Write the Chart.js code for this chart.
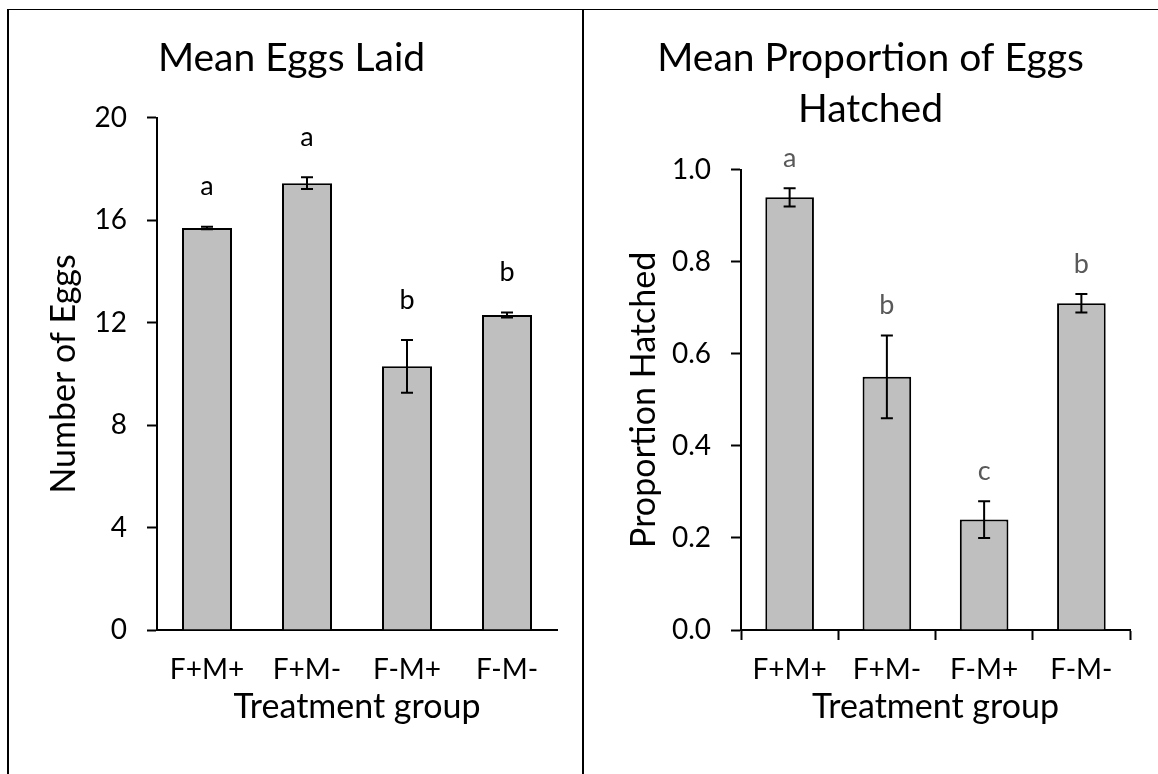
<!DOCTYPE html>
<html>
<head>
<meta charset="utf-8">
<script src="https://cdn.jsdelivr.net/npm/chart.js@4/dist/chart.umd.min.js"></script>
<style>
    html, body { margin: 0; padding: 0; background: #fff; }
    body { width: 1158px; height: 774px; position: relative; overflow: hidden; }
    canvas { position: absolute; top: 0; }
    #eggsChart { left: 0; }
    #hatchChart { left: 583px; }
    .rule { position: absolute; background: #000; z-index: 2; }
</style>
</head>
<body>
<canvas id="eggsChart" width="583" height="774"></canvas>
<canvas id="hatchChart" width="575" height="774"></canvas>
<div class="rule" style="left:7px; top:9px; width:1151px; height:1px;"></div>
<div class="rule" style="left:7px; top:9px; width:2px; height:765px;"></div>
<div class="rule" style="left:582px; top:9px; width:2px; height:765px;"></div>
<script>
// data
const groups = ['F+M+', 'F+M-', 'F-M+', 'F-M-'];

const eggMeans = [15.7, 17.45, 10.3, 12.3];
const eggErrors = [0.05, 0.23, 1.03, 0.1];
const eggLetters = ['a', 'a', 'b', 'b'];

const hatchMeans = [0.94, 0.55, 0.24, 0.71];
const hatchErrors = [0.02, 0.09, 0.04, 0.02];
const hatchLetters = ['a', 'b', 'c', 'b'];

const FONT = 'Lato, "Open Sans", sans-serif';

// error bars + significance letters above each bar
const errorBarPlugin = {
    id: 'errorBars',
    afterDatasetsDraw(chart, args, opts) {
        const ctx = chart.ctx;
        const meta = chart.getDatasetMeta(0);
        const yScale = chart.scales.y;
        const values = chart.data.datasets[0].data;
        ctx.save();
        ctx.strokeStyle = '#000';
        ctx.lineWidth = 2;
        meta.data.forEach((bar, i) => {
            const err = opts.errors[i];
            const yHi = yScale.getPixelForValue(values[i] + err);
            const yLo = yScale.getPixelForValue(values[i] - err);
            ctx.beginPath();
            ctx.moveTo(bar.x, yHi);
            ctx.lineTo(bar.x, yLo);
            ctx.moveTo(bar.x - 6, yHi);
            ctx.lineTo(bar.x + 6, yHi);
            ctx.moveTo(bar.x - 6, yLo);
            ctx.lineTo(bar.x + 6, yLo);
            ctx.stroke();

            ctx.fillStyle = opts.letterColor;
            ctx.font = '27px ' + FONT;
            ctx.textAlign = 'center';
            ctx.textBaseline = 'middle';
            ctx.fillText(opts.letters[i], bar.x, yHi - opts.letterGap);
        });
        ctx.restore();
    },
};

function makeChart(canvasId, cfg) {
    return new Chart(document.getElementById(canvasId), {
        type: 'bar',
        data: {
            labels: groups,
            datasets: [{
                data: cfg.values,
                backgroundColor: '#bfbfbf',
                borderColor: '#000',
                borderWidth: 2,
                barPercentage: 0.5,
                categoryPercentage: 1.0,
            }],
        },
        options: {
            responsive: false,
            animation: false,
            devicePixelRatio: 1,
            plugins: {
                legend: { display: false },
                tooltip: { enabled: false },
                title: {
                    display: true,
                    text: cfg.title,
                    color: '#000',
                    font: { family: FONT, size: 39, weight: 'normal', lineHeight: 1.33 },
                    padding: { top: 32, bottom: cfg.titleBottom },
                },
                errorBars: {
                    errors: cfg.errors,
                    letters: cfg.letters,
                    letterColor: cfg.letterColor,
                    letterGap: cfg.letterGap,
                },
            },
            scales: {
                x: {
                    grid: {
                        display: true,
                        drawOnChartArea: false,
                        drawTicks: cfg.xTicks,
                        tickLength: 10,
                        tickWidth: 2,
                        tickColor: '#000',
                    },
                    border: { display: true, color: '#000', width: 2 },
                    ticks: {
                        color: '#000',
                        font: { family: FONT, size: 28 },
                        padding: cfg.xTicks ? 13 : 23,
                        maxRotation: 0,
                    },
                    title: {
                        display: true,
                        text: 'Treatment group',
                        color: '#000',
                        font: { family: FONT, size: 34 },
                        padding: { top: 0, bottom: 47 },
                    },
                    afterFit: s => { s.height = 144; },
                },
                y: {
                    min: 0,
                    max: cfg.yMax,
                    grid: {
                        display: true,
                        drawOnChartArea: false,
                        drawTicks: true,
                        tickLength: 10,
                        tickWidth: 2,
                        tickColor: '#000',
                    },
                    border: { display: true, color: '#000', width: 2 },
                    ticks: {
                        stepSize: cfg.yStep,
                        color: '#000',
                        font: { family: FONT, size: 28 },
                        padding: 20,
                        callback: v => v.toFixed(cfg.decimals),
                    },
                    title: {
                        display: true,
                        text: cfg.yTitle,
                        color: '#000',
                        font: { family: FONT, size: 34 },
                        padding: { top: cfg.yTitlePad, bottom: 0 },
                    },
                    afterFit: s => { s.width = cfg.yWidth; },
                },
                // empty right-hand margin so the title centres on the whole panel
                gap: {
                    type: 'linear',
                    position: 'right',
                    grid: { display: false },
                    border: { display: false },
                    ticks: { display: false },
                    afterFit: s => { s.width = cfg.padRight; },
                },
            },
        },
        plugins: [errorBarPlugin],
    });
}

makeChart('eggsChart', {
    values: eggMeans,
    errors: eggErrors,
    letters: eggLetters,
    letterColor: '#000',
    letterGap: 40,
    title: 'Mean Eggs Laid',
    titleBottom: 34,
    yTitle: 'Number of Eggs',
    yTitlePad: 44,
    yMax: 20,
    yStep: 4,
    decimals: 0,
    yWidth: 157,
    padRight: 26,
    xTicks: false,
});

makeChart('hatchChart', {
    values: hatchMeans,
    errors: hatchErrors,
    letters: hatchLetters,
    letterColor: '#595959',
    letterGap: 30,
    title: ['Mean Proportion of Eggs', 'Hatched'],
    titleBottom: 34,
    yTitle: 'Proportion Hatched',
    yTitlePad: 41,
    yMax: 1.0,
    yStep: 0.2,
    decimals: 1,
    yWidth: 158,
    padRight: 28,
    xTicks: true,
});
</script>
</body>
</html>
